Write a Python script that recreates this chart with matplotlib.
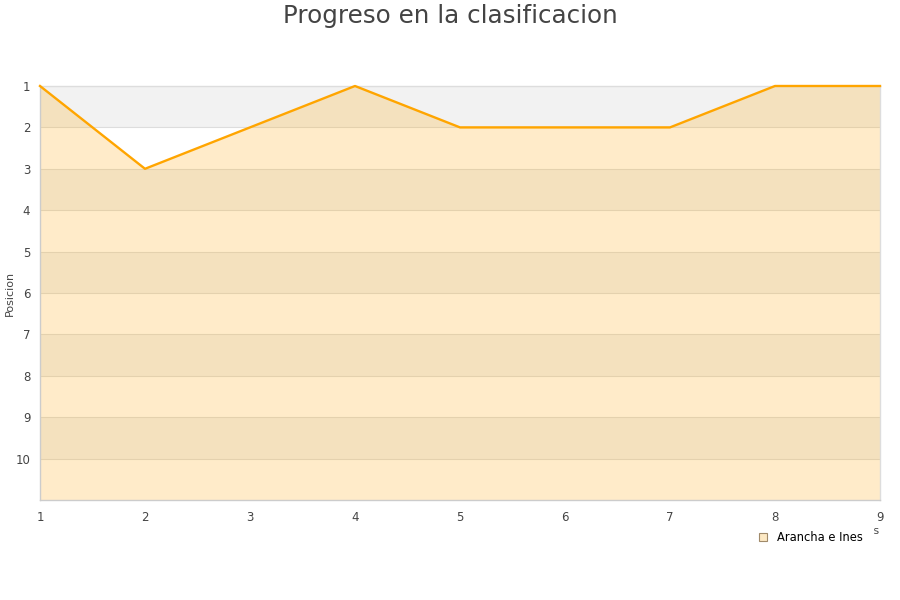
import matplotlib
matplotlib.use("Agg")
import matplotlib.pyplot as plt
from matplotlib.lines import Line2D

jornadas = [1, 2, 3, 4, 5, 6, 7, 8, 9]
posicion = [1, 3, 2, 1, 2, 2, 2, 1, 1]
serie = "Arancha e Ines"
title = "Progreso en la clasificacion"
y_ticks = [1, 2, 3, 4, 5, 6, 7, 8, 9, 10]

fig = plt.figure(figsize=(9, 6), dpi=100)
ax = fig.add_axes([40/900, 1-500/600, 840/900, 414/600])
ax.set_xlim(1, 9)
ax.set_ylim(11, 1)

# alternating bands
for k in range(1, 11):
    if k % 2 == 1:
        ax.axhspan(k, k+1, color="#f2f2f2", lw=0, zorder=0)
for k in range(2, 11):
    ax.axhline(k, color="#dddddd", lw=0.8, zorder=0.5)

ax.fill_between(jornadas, posicion, 11, color="#ffa500", alpha=0.21, lw=0, zorder=1)
ax.plot(jornadas, posicion, color="#ffa500", lw=1.7, zorder=3, clip_on=False)

for s in ["top", "right"]:
    ax.spines[s].set_color("#dddddd")
    ax.spines[s].set_linewidth(1)
for s in ["left", "bottom"]:
    ax.spines[s].set_color("#cccccc")
    ax.spines[s].set_linewidth(1)

ax.set_yticks(y_ticks)
ax.set_yticklabels([str(v) for v in y_ticks])
ax.set_xticks(jornadas)
ax.tick_params(axis="both", length=0, labelsize=8.5, colors="#444444")
ax.tick_params(axis="y", pad=7)
ax.tick_params(axis="x", pad=8)

ax.set_ylabel("Posicion", fontsize=8, color="#444444")
ax.yaxis.set_label_coords(-25/840, 0.5)
ax.set_xlabel("Jornadas", fontsize=8, color="#444444")
ax.xaxis.set_label_coords(1.0, -31/414)
ax.xaxis.label.set_horizontalalignment("right")
ax.xaxis.label.set_verticalalignment("center")

fig.suptitle(title, fontsize=17.7, color="#444444", y=0.973, va="center")

handle = Line2D([], [], marker="s", linestyle="none", markersize=6,
                markerfacecolor="#fde9c4", markeredgecolor="#a08a6a", markeredgewidth=0.8)
leg = ax.legend([handle], [serie], loc="upper right", bbox_to_anchor=(833/840, -21/414),
                frameon=True, fontsize=8.3, handletextpad=0.7, borderpad=0.9,
                handlelength=1.0, borderaxespad=0)
leg.get_frame().set_facecolor("white")
leg.get_frame().set_edgecolor("white")
leg.get_frame().set_alpha(1)
leg.set_zorder(10)

fig.savefig("out.png", dpi=100)
